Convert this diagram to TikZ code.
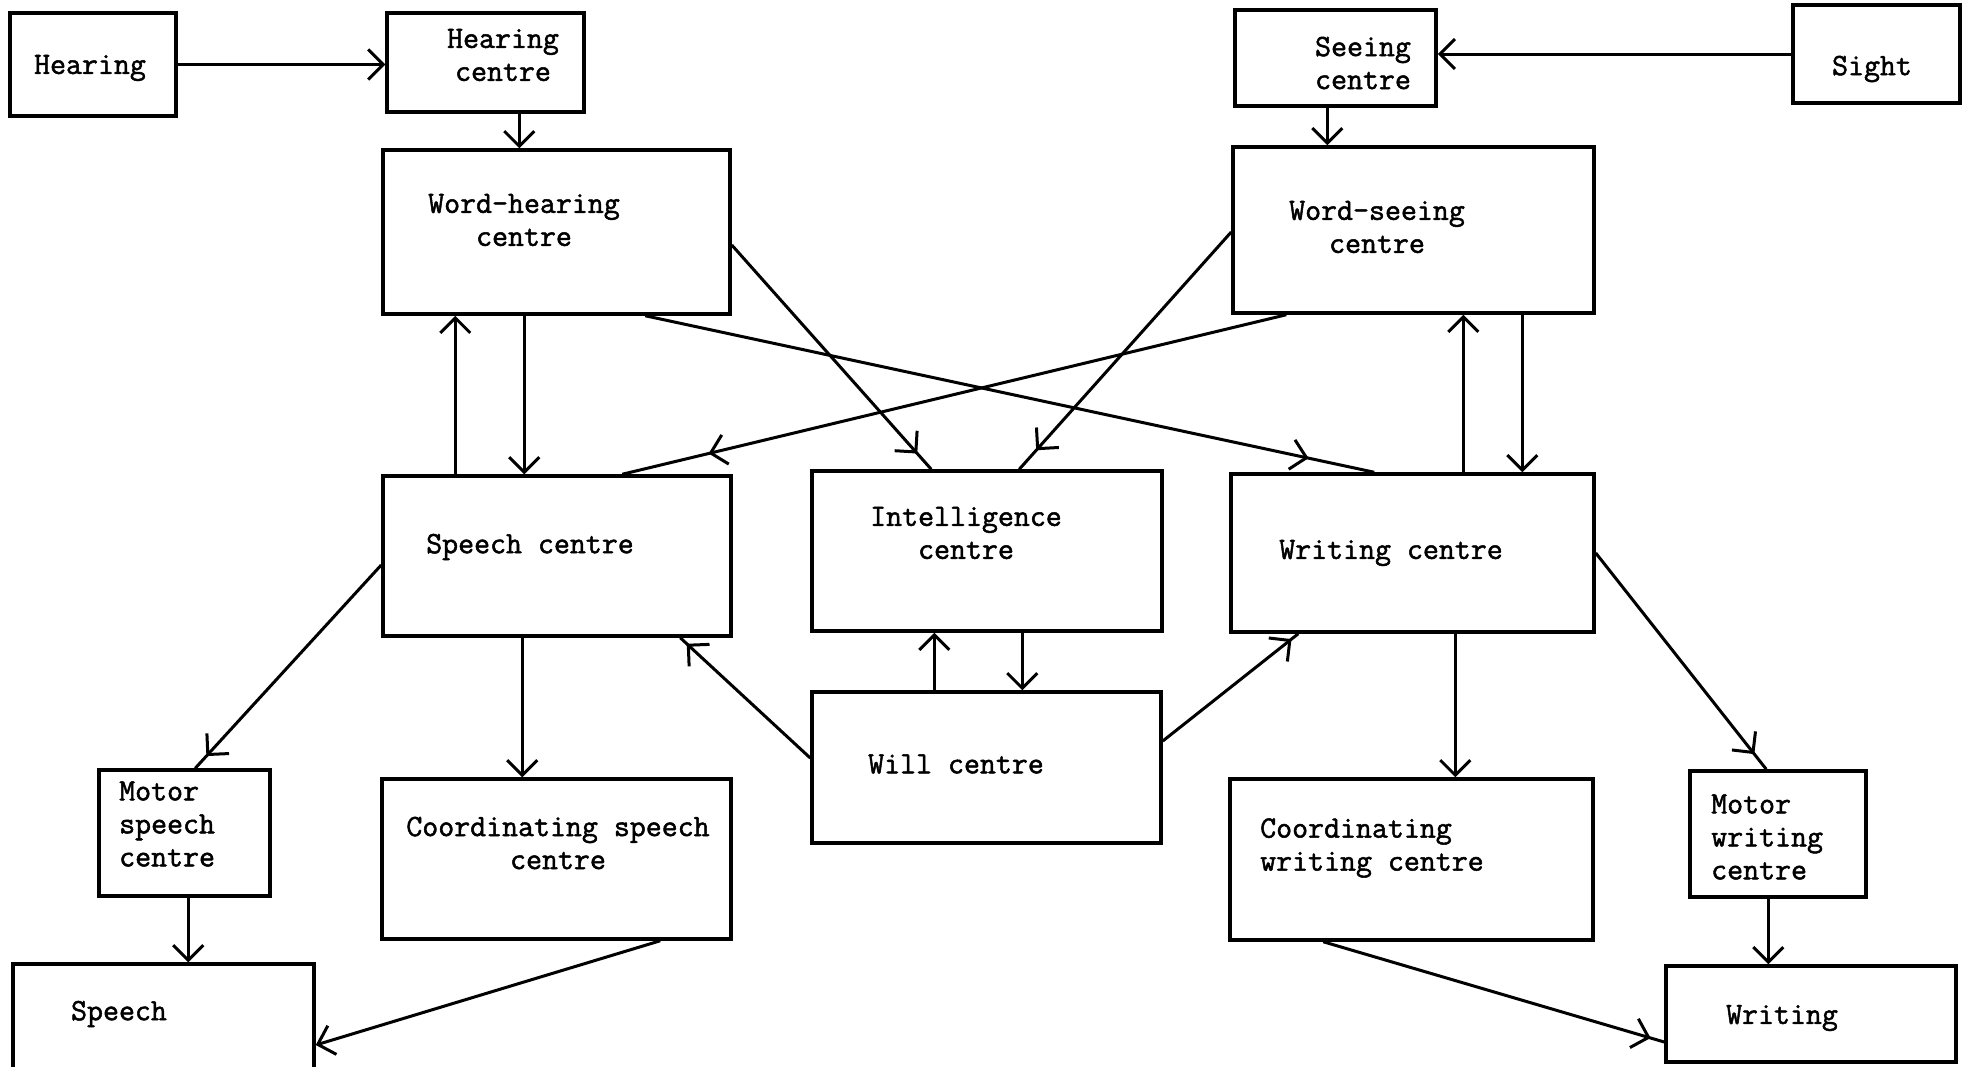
\documentclass[tikz,border=0pt]{standalone}
\usepackage{fontspec}
\setmonofont{Latin Modern Mono}[AutoFakeBold=1.6]
\usetikzlibrary{arrows.meta,decorations.markings}
\begin{document}
\begin{tikzpicture}[x=1pt,y=-1pt,
 box/.style={draw, line width=3.5pt, inner sep=0pt, anchor=center},
 lbl/.style={font=\ttfamily\bfseries\fontsize{31}{33}\selectfont, align=center, inner sep=0pt},
 lbll/.style={lbl, align=left, anchor=west},
 conn/.style={line width=3pt},
 arr/.style={conn, -{Straight Barb[length=15pt,width=30pt,line width=3pt]}},
 midarr/.style={conn, postaction={decorate,decoration={markings,mark=at position #1 with {\arrow{Straight Barb[length=15pt,width=30pt,line width=3pt]}}}}}]
\fill[white] (0,0) rectangle (1970,1066);
\useasboundingbox (0,0) rectangle (1970,1066);
% boxes
\node[box, minimum width=166pt, minimum height=103pt] (hear) at (93,64.5) {};
\node[box, minimum width=197pt, minimum height=99pt] (hc) at (485.5,62.5) {};
\node[box, minimum width=347pt, minimum height=164pt] (wh) at (556.5,232) {};
\node[box, minimum width=201pt, minimum height=96pt] (sc) at (1335.5,58) {};
\node[box, minimum width=167pt, minimum height=98pt] (sight) at (1876.5,54) {};
\node[box, minimum width=361pt, minimum height=166pt] (ws) at (1413.5,230) {};
\node[box, minimum width=348pt, minimum height=160pt] (sp) at (557,556) {};
\node[box, minimum width=350pt, minimum height=160pt] (ic) at (987,551) {};
\node[box, minimum width=363pt, minimum height=158pt] (wc) at (1412.5,553) {};
\node[box, minimum width=349pt, minimum height=151pt] (will) at (986.5,767.5) {};
\node[box, minimum width=171pt, minimum height=126pt] (ms) at (184.5,833) {};
\node[box, minimum width=349pt, minimum height=160pt] (cs) at (556.5,859) {};
\node[box, minimum width=363pt, minimum height=161pt] (cw) at (1411.5,859.5) {};
\node[box, minimum width=176pt, minimum height=126pt] (mw) at (1778,834) {};
\node[box, minimum width=301pt, minimum height=111pt] (speech) at (163.5,1019.5) {};
\node[box, minimum width=290pt, minimum height=96pt] (writing) at (1811,1014) {};
% labels
\node[lbl] (t-hear) at (90,68) {Hearing};
\node[lbl] (t-hc) at (503,55) {Hearing\\centre};
\node[lbl] (t-wh) at (524,220) {Word-hearing\\centre};
\node[lbl] (t-sc) at (1363,63) {Seeing\\centre};
\node[lbl] (t-sight) at (1872,69) {Sight};
\node[lbl] (t-ws) at (1377,227) {Word-seeing\\centre};
\node[lbl] (t-sp) at (530,547) {Speech centre};
\node[lbl] (t-ic) at (966,533) {Intelligence\\centre};
\node[lbl] (t-wc) at (1391,553) {Writing centre};
\node[lbl] (t-will) at (956,764) {Will centre};
\node[lbll] (t-ms) at (119,824) {Motor\\speech\\centre};
\node[lbl] (t-cs) at (558,843) {Coordinating speech\\centre};
\node[lbll] (t-cw) at (1260,848) {Coordinating\\writing centre};
\node[lbll] (t-mw) at (1711,837) {Motor\\writing\\centre};
\node[lbl] (t-speech) at (119,1014) {Speech};
\node[lbl] (t-writing) at (1782,1018) {Writing};
% connectors
\draw[arr] (hear.east) -- (hear.east -| hc.west);
\draw[arr] ([xshift=134pt]hc.south west) -- ([xshift=138pt]wh.north west);
\draw[arr] (sight.west) -- (sight.west -| sc.east);
\draw[arr] ([xshift=94pt]sc.south west) -- ([xshift=96pt]ws.north west);
\draw[arr] ([xshift=74pt]sp.north west) -- ([xshift=74pt]wh.south west);
\draw[arr] ([xshift=143pt]wh.south west) -- ([xshift=143pt]sp.north west);
\draw[arr] ([xshift=234pt]wc.north west) -- ([xshift=232pt]ws.south west);
\draw[arr] ([xshift=291pt]ws.south west) -- ([xshift=293pt]wc.north west);
\draw[midarr=0.93] ([yshift=-13pt]wh.east) -- ([xshift=121pt]ic.north west);
\draw[midarr=0.92] ([yshift=-2pt]ws.west) -- ([xshift=209pt]ic.north west);
\draw[midarr=0.91] ([xshift=264pt]wh.south west) -- ([xshift=145pt]wc.north west);
\draw[midarr=0.87] ([xshift=55pt]ws.south west) -- ([xshift=241pt]sp.north west);
\draw[midarr=0.94] ([yshift=-9pt]sp.west) -- ([xshift=98pt]ms.north west);
\draw[arr] ([xshift=141pt]sp.south west) -- ([xshift=142pt]cs.north west);
\draw[midarr=0.95] ([yshift=9.5pt]will.west) -- ([xshift=299pt]sp.south west);
\draw[arr] ([xshift=124pt]will.north west) -- ([xshift=124pt]ic.south west);
\draw[arr] ([xshift=212pt]ic.south west) -- ([xshift=212pt]will.north west);
\draw[midarr=0.95] ([yshift=26.5pt]will.east) -- ([xshift=69pt]wc.south west);
\draw[arr] ([xshift=226pt]wc.south west) -- ([xshift=227pt]cw.north west);
\draw[midarr=0.93] (wc.east) -- ([xshift=78pt]mw.north west);
\draw[arr] ([xshift=91pt]ms.south west) -- ([xshift=177pt]speech.north west);
\draw[arr] ([xshift=280pt]cs.south west) -- ([yshift=-25.5pt]speech.east);
\draw[midarr=0.96] ([xshift=95pt]cw.south west) -- ([yshift=-28pt]writing.west);
\draw[arr] ([xshift=80pt]mw.south west) -- ([xshift=104pt]writing.north west);
\end{tikzpicture}
\end{document}
